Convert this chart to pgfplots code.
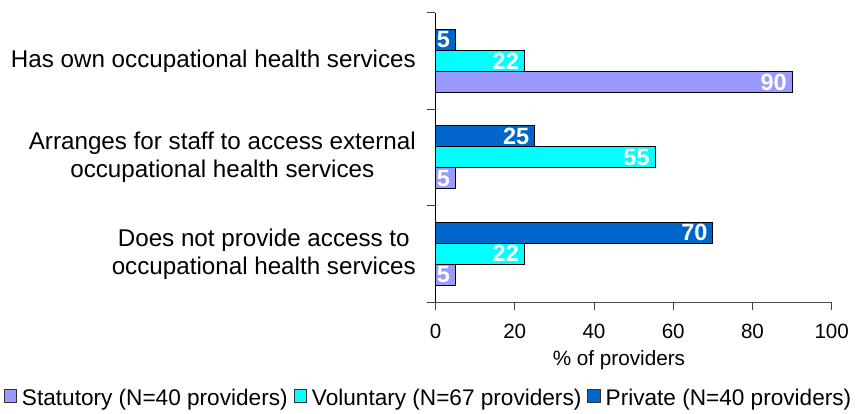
\documentclass[border=0pt]{standalone}
\usepackage{fontspec}
\setmainfont{Liberation Sans}
\usepackage{pgfplots}
\pgfplotsset{compat=1.18}
\definecolor{stat}{HTML}{9999FF}
\definecolor{vol}{HTML}{00FFFF}
\definecolor{priv}{HTML}{0066CC}
\begin{document}
\begin{tikzpicture}
\begin{axis}[
  at={(0,0)}, anchor=south west,
  scale only axis, width=396.2pt, height=289.3pt,
  xbar, bar width=21pt,
  xmin=0, xmax=100, ymin=0.5, ymax=3.5,
  axis x line*=bottom, axis y line*=left,
  x axis line style={black!70, line width=0.9pt},
  y axis line style={black, line width=0.9pt},
  /pgf/number format/assume math mode=true,
  xtick={0,20,40,60,80,100},
  ytick={0.5,1.5,2.5,3.5}, yticklabels={},
  extra y ticks={1,2,3},
  extra y tick labels={{Does not provide access to\\occupational health services},{Arranges for staff to access external\\occupational health services},{Has own occupational health services}},
  extra y tick style={major tick length=0pt, yticklabel style={align=center, anchor=east, inner sep=0pt, xshift=-19.5pt, font=\fontsize{24.2}{28}\selectfont}},
  tick align=outside, major tick length=8pt,
  tick style={black!75, line width=0.9pt},
  xticklabel style={font=\fontsize{20.6}{24}\selectfont, anchor=north, inner sep=0pt, yshift=-14pt},
  xlabel={\% of providers},
  xlabel style={at={(axis description cs:0.463,0)}, anchor=center, yshift=-58.5pt, font=\fontsize{20.7}{24}\selectfont},
  point meta=x,
  nodes near coords={\pgfmathprintnumber[fixed,precision=0]{\pgfplotspointmeta}},
  every node near coord/.append style={anchor=east, xshift=-5pt, inner sep=0pt, text=white, font=\fontsize{23.5}{26}\selectfont\bfseries},
  legend style={at={(axis description cs:-0.0177,-0.3336)}, anchor=center, legend columns=-1, draw=none, fill=none, inner sep=0pt,
    font=\fontsize{22.6}{26}\selectfont, /tikz/every even column/.append style={column sep=4pt}},
  clip=false,
]
\addplot[fill=stat, draw=black, line width=0.8pt, bar shift=-21pt,
  legend image code/.code={\draw[fill=stat, draw=black!80, line width=0.8pt] (0pt,-3.5pt) rectangle (12.5pt,9pt); \path (15.5pt,0pt);}]
  coordinates {(5,1) (5,2) (90,3)};
\addlegendentry{Statutory (N=40 providers)}
\addplot[fill=vol, draw=black, line width=0.8pt, bar shift=0pt,
  legend image code/.code={\draw[fill=vol, draw=black!80, line width=0.8pt] (0pt,-3.5pt) rectangle (12.5pt,9pt); \path (15.5pt,0pt);}]
  coordinates {(22.4,1) (55.4,2) (22.4,3)};
\addlegendentry{Voluntary (N=67 providers)}
\addplot[fill=priv, draw=black, line width=0.8pt, bar shift=21pt,
  legend image code/.code={\draw[fill=priv, draw=black!80, line width=0.8pt] (0pt,-3.5pt) rectangle (12.5pt,9pt); \path (15.5pt,0pt);}]
  coordinates {(70,1) (25,2) (5,3)};
\addlegendentry{Private (N=40 providers)}
\end{axis}
\pgfresetboundingbox
\useasboundingbox (-435.5pt,-111pt) rectangle (420.5pt,302pt);
\end{tikzpicture}
\end{document}
